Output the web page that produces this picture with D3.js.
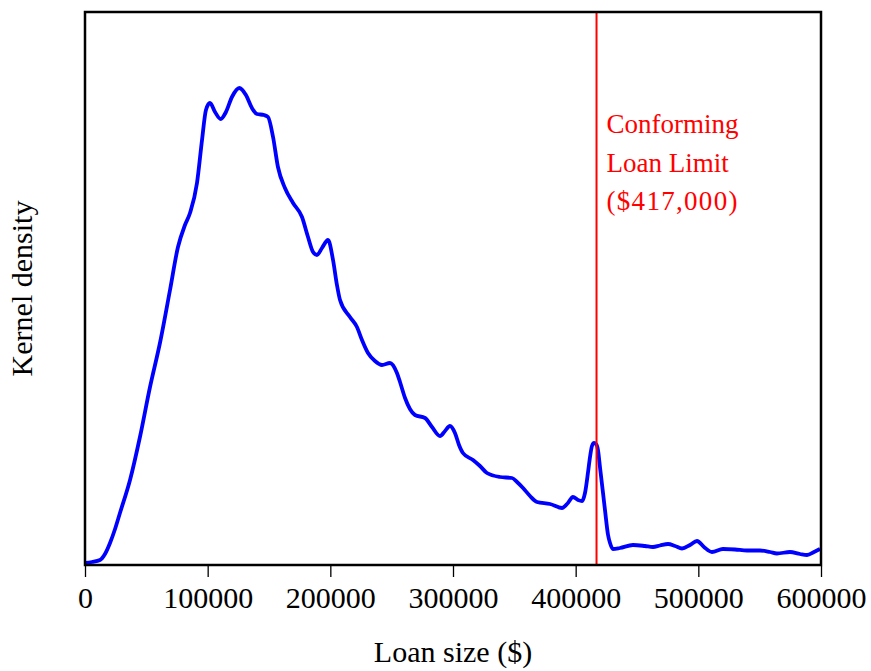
<!DOCTYPE html>
<html>
<head>
<meta charset="utf-8">
<script src="https://cdn.jsdelivr.net/npm/d3@7"></script>
<style>
  body { margin: 0; background: #fff; }
  text { font-family: "Liberation Serif", "Times New Roman", serif; }
</style>
</head>
<body>
<div id="chart"></div>
<script>
// loan size in thousands of dollars, density in arbitrary units
const loanK = [0, 5.7, 12.2, 16.3, 20.4, 24.5, 28.5, 36.7, 44.8, 53.0, 61.1, 69.3, 75.8, 81.5, 85.6, 91.3, 95.4, 98.6,
  101.9, 106.0, 110.6, 114.9, 119.8, 125.8, 131.2, 136.1, 140.2, 145.9, 149.2, 153.3, 157.3, 163.0, 169.6, 176.9,
  181.8, 185.9, 189.1, 193.2, 198.1, 202.2, 205.4, 207.9, 216.0, 221.7, 225.8, 230.7, 236.4, 242.1, 248.6, 254.3,
  256.8, 260.9, 264.9, 269.0, 277.2, 282.9, 289.4, 293.5, 297.5, 301.6, 304.9, 308.1, 316.3, 322.0, 327.7, 338.3,
  348.1, 352.2, 357.1, 362.8, 368.5, 379.1, 388.9, 393.7, 397.8, 401.9, 405.2, 407.6, 410.1, 411.7, 413.3, 415.0,
  416.6, 418.2, 419.8, 422.3, 423.9, 426.4, 428.0, 430.4, 436.1, 446.7, 456.5, 463.0, 468.7, 475.3, 481.0, 486.7,
  493.2, 498.9, 504.6, 511.1, 520.1, 529.9, 539.7, 550.3, 558.4, 564.1, 574.7, 582.9, 588.6, 594.3, 599.2];
const density = [0.02, 0.03, 0.05, 0.11, 0.22, 0.36, 0.52, 0.85, 1.28, 1.78, 2.22, 2.75, 3.18, 3.40, 3.52, 3.82, 4.25, 4.55,
  4.62, 4.53, 4.46, 4.53, 4.68, 4.77, 4.70, 4.57, 4.51, 4.50, 4.48, 4.28, 3.98, 3.77, 3.62, 3.48,
  3.28, 3.13, 3.10, 3.17, 3.25, 3.05, 2.80, 2.65, 2.48, 2.38, 2.25, 2.12, 2.04, 2.00, 2.02, 1.92,
  1.83, 1.67, 1.56, 1.50, 1.47, 1.38, 1.29, 1.34, 1.39, 1.32, 1.20, 1.12, 1.05, 0.99, 0.92, 0.88,
  0.87, 0.83, 0.77, 0.69, 0.63, 0.61, 0.57, 0.62, 0.68, 0.65, 0.64, 0.72, 0.93, 1.08, 1.19, 1.22,
  1.21, 1.15, 0.98, 0.72, 0.55, 0.30, 0.22, 0.16, 0.17, 0.20, 0.19, 0.18, 0.195, 0.21, 0.19, 0.165,
  0.20, 0.24, 0.18, 0.13, 0.16, 0.155, 0.145, 0.145, 0.13, 0.115, 0.13, 0.11, 0.10, 0.13, 0.16];
const xTicks = [0, 100000, 200000, 300000, 400000, 500000, 600000];
const limit = 417000;
const limitLabel = ["Conforming", "Loan Limit", "($417,000)"];

const width = 871, height = 671;
const margin = {top: 12, right: 50, bottom: 106, left: 85};

const svg = d3.select("#chart").append("svg")
  .attr("width", width)
  .attr("height", height);

const x = d3.scaleLinear().domain([0, 600000]).range([margin.left, width - margin.right]);
const y = d3.scaleLinear().domain([0, 5.53]).range([height - margin.bottom, margin.top]);

const points = loanK.map((d, i) => ({loan: d * 1000, dens: density[i]}));

// curve
const line = d3.line()
  .x(d => x(d.loan))
  .y(d => y(d.dens))
  .curve(d3.curveMonotoneX);

svg.append("path")
  .datum(points)
  .attr("fill", "none")
  .attr("stroke", "#0000ff")
  .attr("stroke-width", 3.8)
  .attr("stroke-linejoin", "round")
  .attr("d", line);

// conforming limit line
svg.append("line")
  .attr("x1", x(limit)).attr("x2", x(limit))
  .attr("y1", y.range()[1]).attr("y2", y.range()[0])
  .attr("stroke", "#ff0000")
  .attr("stroke-width", 2);

svg.append("g")
  .selectAll("text")
  .data(limitLabel)
  .enter().append("text")
  .attr("x", x(limit) + 10)
  .attr("y", (d, i) => 133 + i * 38.5)
  .attr("fill", "#ff0000")
  .style("font-size", "27px")
  .style("letter-spacing", (d, i) => i === 2 ? "1.3px" : null)
  .text(d => d);

// frame
svg.append("rect")
  .attr("x", x.range()[0])
  .attr("y", y.range()[1])
  .attr("width", x.range()[1] - x.range()[0])
  .attr("height", y.range()[0] - y.range()[1])
  .attr("fill", "none")
  .attr("stroke", "#000")
  .attr("stroke-width", 2.5);

// x axis
const xAxis = svg.append("g")
  .attr("transform", `translate(0,${y.range()[0] + 1})`)
  .call(d3.axisBottom(x).tickValues(xTicks).tickFormat(d3.format("d")).tickSize(11).tickPadding(10));
xAxis.select(".domain").remove();
xAxis.selectAll("line").attr("stroke", "#000").attr("stroke-width", 1.3);
xAxis.selectAll("text")
  .attr("fill", "#000")
  .style("font-family", "'Liberation Serif', 'Times New Roman', serif")
  .style("font-size", "30px");

svg.append("text")
  .attr("x", (x.range()[0] + x.range()[1]) / 2)
  .attr("y", 662)
  .attr("text-anchor", "middle")
  .style("font-size", "30px")
  .text("Loan size ($)");

svg.append("text")
  .attr("transform", `translate(32,${(y.range()[0] + y.range()[1]) / 2}) rotate(-90)`)
  .attr("text-anchor", "middle")
  .style("font-size", "30px")
  .text("Kernel density");
</script>
</body>
</html>
